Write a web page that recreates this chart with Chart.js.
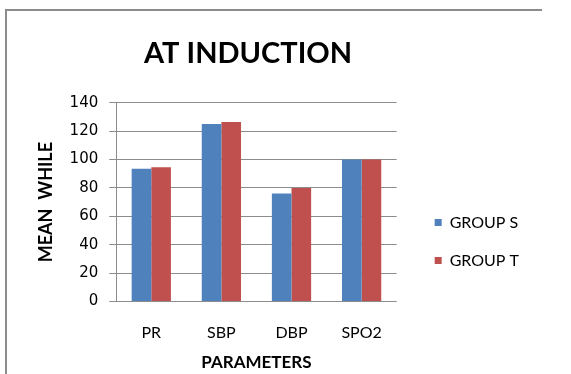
<!DOCTYPE html>
<html>
<head>
<meta charset="utf-8">
<script src="https://cdn.jsdelivr.net/npm/chart.js@4.4.1/dist/chart.umd.min.js"></script>
<style>
  html, body { margin: 0; padding: 0; background: #fff; }
  body { width: 571px; height: 374px; position: relative; overflow: hidden; }
  .frame { position: absolute; left: 5px; top: 9px; width: 537px; height: 400px;
           border-left: 2px solid #8c8c8c; border-top: 2px solid #8c8c8c; box-sizing: border-box; }
  .wrap { position: absolute; left: 0; top: 0; width: 571px; height: 374px; }
</style>
</head>
<body>
<div class="frame"></div>
<div class="wrap"><canvas id="c" width="571" height="374"></canvas></div>
<script>
// Mean values at induction, per parameter
const categories = ['PR', 'SBP', 'DBP', 'SPO2'];
const groupS = [93.5, 125, 76, 100];
const groupT = [94.5, 126.5, 80, 100];
const seriesNames = ['GROUP S', 'GROUP T'];
const yTicks = [0, 20, 40, 60, 80, 100, 120, 140];

// Nudge the legend and title blocks after layout
function shiftBox(box, dx, dy) {
  if (!box) return;
  box.left += dx; box.right += dx;
  box.top += dy; box.bottom += dy;
}
const blockOffset = {
  id: 'blockOffset',
  afterLayout(chart, args, opts) {
    shiftBox(chart.legend, opts.legendDx, opts.legendDy);
    shiftBox(chart.titleBlock, opts.titleDx, 0);
  }
};

const ctx = document.getElementById('c').getContext('2d');
new Chart(ctx, {
  type: 'bar',
  data: {
    labels: categories,
    datasets: [
      { label: seriesNames[0], data: groupS, backgroundColor: '#4F81BD', borderWidth: 0 },
      { label: seriesNames[1], data: groupT, backgroundColor: '#C0504D', borderWidth: 0 }
    ]
  },
  plugins: [blockOffset],
  options: {
    responsive: false,
    animation: false,
    layout: { padding: { left: 35, right: 58, top: 36, bottom: 1 } },
    datasets: { bar: { barPercentage: 1, categoryPercentage: 0.56 } },
    plugins: {
      blockOffset: { legendDx: 16, legendDy: 37, titleDx: -26 },
      title: {
        display: true,
        text: 'AT INDUCTION',
        color: '#000',
        font: { family: 'Lato', size: 29, weight: 'bold' },
        padding: { top: 0, bottom: 32 }
      },
      legend: {
        position: 'right',
        align: 'center',
        labels: {
          boxWidth: 7,
          boxHeight: 7,
          padding: 22,
          color: '#000',
          font: { family: 'Lato', size: 16 }
        }
      },
      tooltip: { enabled: false }
    },
    scales: {
      x: {
        grid: { display: false, drawTicks: true, tickLength: 22 },
        border: { display: false },
        ticks: { color: '#000', font: { family: 'Lato', size: 16 }, padding: 0 },
        title: {
          display: true, text: 'PARAMETERS', color: '#000',
          font: { family: 'Lato', size: 17, weight: 'bold' }, padding: { top: 10, bottom: 0 }
        }
      },
      y: {
        min: 0, max: 140,
        afterBuildTicks: (scale) => { scale.ticks = yTicks.map(v => ({ value: v })); },
        ticks: { color: '#000', font: { family: 'DejaVu Sans', size: 15 }, padding: 11 },
        grid: { color: '#8c8c8c', lineWidth: 1, tickLength: 7 },
        border: { display: true, color: '#8c8c8c', width: 1 },
        title: {
          display: true, text: 'MEAN  WHILE', color: '#000',
          font: { family: 'Lato', size: 18, weight: 'bold' }, padding: { top: 0, bottom: 2 }
        }
      }
    }
  }
});
</script>
</body>
</html>
